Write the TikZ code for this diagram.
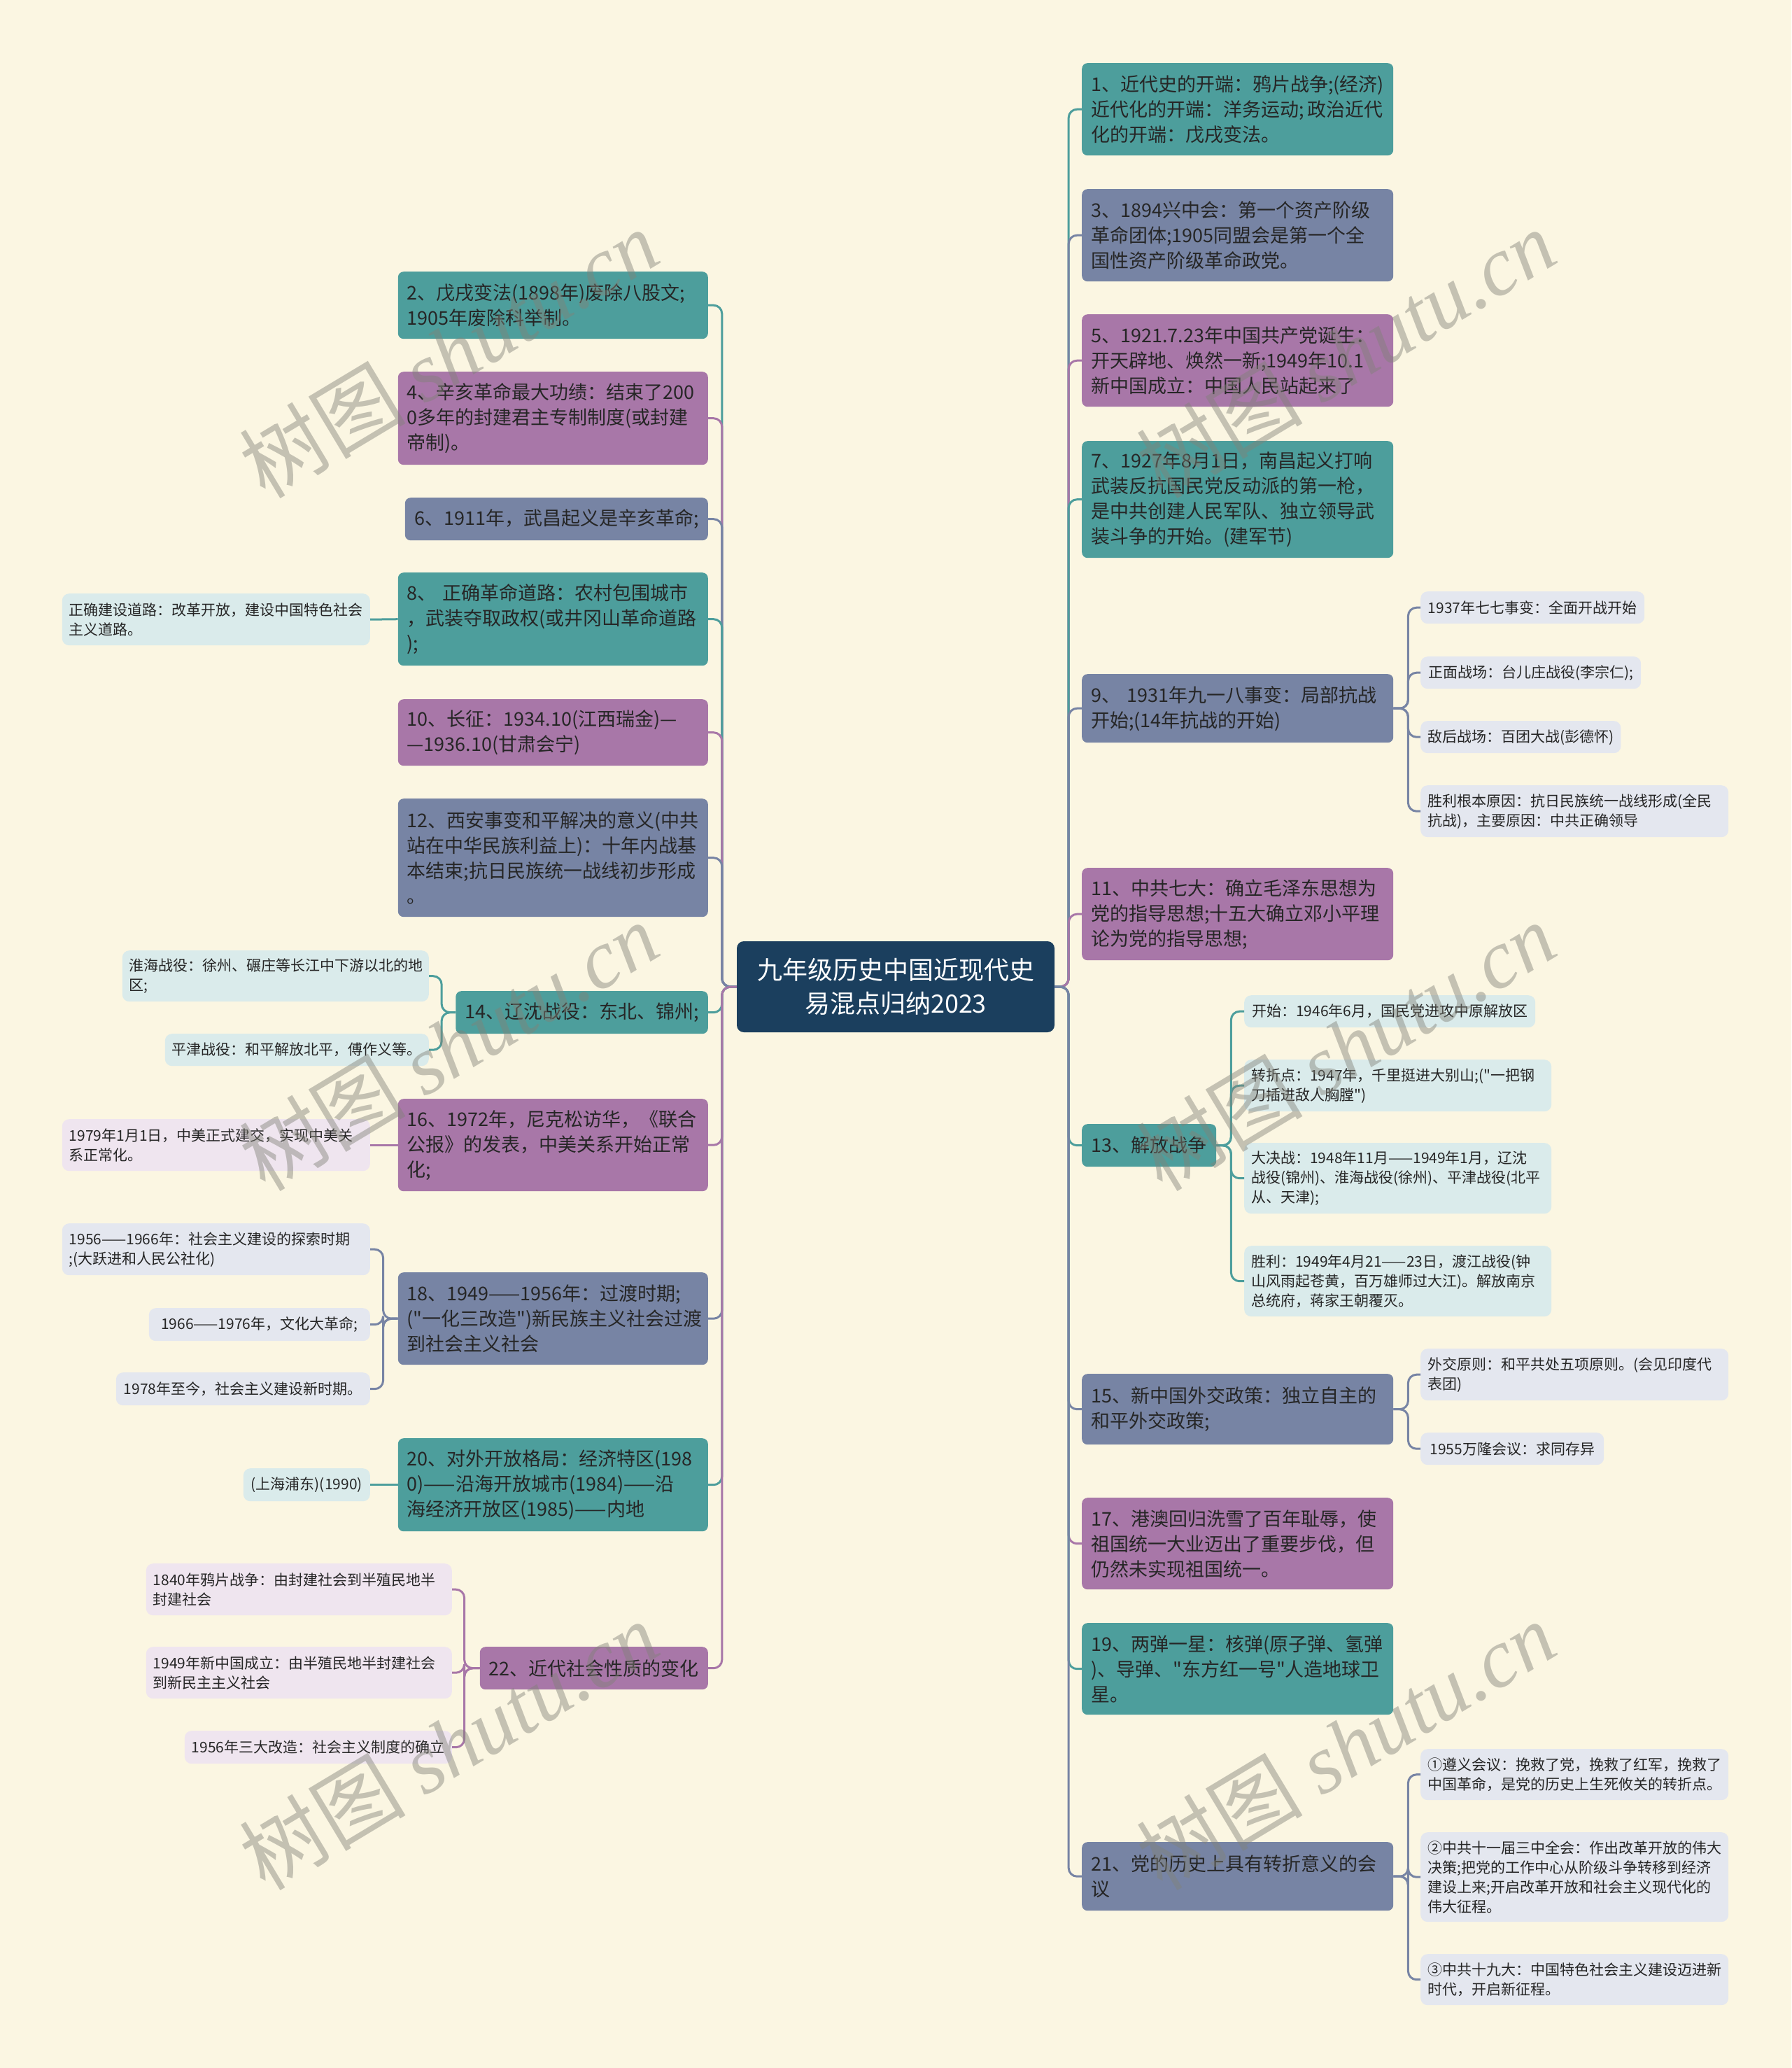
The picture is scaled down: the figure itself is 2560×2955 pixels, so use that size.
\documentclass[tikz,border=0pt]{standalone}
\usepackage{fontspec}
\setmainfont{Noto Sans CJK SC}[Ligatures=TeXOff]
\newfontfamily\wmlat{Liberation Serif}[Ligatures=TeXOff]
\definecolor{bgc}{HTML}{FBF6E2}
\definecolor{cT}{HTML}{4D9E9C}
\definecolor{cS}{HTML}{7784A4}
\definecolor{cP}{HTML}{A877A8}
\definecolor{cC}{HTML}{1B3F5E}
\definecolor{lT}{HTML}{DAEBEB}
\definecolor{lS}{HTML}{E4E7EF}
\definecolor{lP}{HTML}{EFE5EF}
\definecolor{txt}{HTML}{262626}
\definecolor{wmc}{HTML}{828278}
\newcommand\mainfs{\fontsize{27}{36}\selectfont}
\newcommand\subfs{\fontsize{21}{28}\selectfont}
\newcommand\ctrfs{\fontsize{36}{48}\selectfont}
\newcommand\wmfs{\fontsize{119}{130}\selectfont}
\begin{document}
\begin{tikzpicture}[x=1pt,y=-1pt,
  mn/.style={rounded corners=8pt, inner xsep=13pt, inner ysep=4pt, font=\mainfs, text=txt, align=left},
  sn/.style={rounded corners=10pt, inner xsep=10pt, inner ysep=3pt, font=\subfs, text=txt, align=left},
  conn/.style={line width=3pt, rounded corners=12pt},
  wm/.style={rotate=31, text=wmc, opacity=0.45, font=\wmfs, inner sep=0pt}]
\useasboundingbox (0,0) rectangle (2560,2955);
\fill[bgc] (0,0) rectangle (2560,2955);

% centre
\node[rounded corners=10pt, fill=cC, text=white, font=\ctrfs, align=center, minimum width=454pt, minimum height=130pt, inner sep=0pt] (c) at (1280,1410) {九年级历史中国近现代史\\易混点归纳2023};

% right main nodes
\node[mn, fill=cT, anchor=north west, text width=419pt, minimum height=132pt] (n1) at (1546,90) {1、近代史的开端：鸦片战争;(经济)\\近代化的开端：洋务运动;\,政治近代\\化的开端：戊戌变法。};
\node[mn, fill=cS, anchor=north west, text width=419pt, minimum height=132pt] (n3) at (1546,270) {3、1894兴中会：第一个资产阶级\\革命团体;1905同盟会是第一个全\\国性资产阶级革命政党。};
\node[mn, fill=cP, anchor=north west, text width=419pt, minimum height=132pt] (n5) at (1546,449) {5、1921.7.23年中国共产党诞生：\\开天辟地、焕然一新;1949年10.1\\新中国成立：中国人民站起来了};
\node[mn, fill=cT, anchor=north west, text width=419pt, minimum height=167pt] (n7) at (1546,630) {7、1927年8月1日，南昌起义打响\\武装反抗国民党反动派的第一枪，\\是中共创建人民军队、独立领导武\\装斗争的开始。(建军节)};
\node[mn, fill=cS, anchor=north west, text width=419pt, minimum height=98pt] (n9) at (1546,963) {9、 1931年九一八事变：局部抗战\\开始;(14年抗战的开始)};
\node[mn, fill=cP, anchor=north west, text width=419pt, minimum height=132pt] (n11) at (1546,1240) {11、中共七大：确立毛泽东思想为\\党的指导思想;十五大确立邓小平理\\论为党的指导思想;};
\node[mn, fill=cT, anchor=north west, minimum width=192pt, minimum height=61pt] (n13) at (1546,1606) {13、解放战争};
\node[mn, fill=cS, anchor=north west, text width=419pt, minimum height=101pt] (n15) at (1546,1963) {15、新中国外交政策：独立自主的\\和平外交政策;};
\node[mn, fill=cP, anchor=north west, text width=419pt, minimum height=131pt] (n17) at (1546,2140) {17、港澳回归洗雪了百年耻辱，使\\祖国统一大业迈出了重要步伐，但\\仍然未实现祖国统一。};
\node[mn, fill=cT, anchor=north west, text width=419pt, minimum height=131pt] (n19) at (1546,2319) {19、两弹一星：核弹(原子弹、氢弹\\)、导弹、"东方红一号"人造地球卫\\星。};
\node[mn, fill=cS, anchor=north west, text width=419pt, minimum height=98pt] (n21) at (1546,2632) {21、党的历史上具有转折意义的会\\议};

% left main nodes
\node[mn, fill=cT, anchor=north east, text width=417pt, minimum height=96pt] (n2) at (1012,388) {2、戊戌变法(1898年)废除八股文;\\1905年废除科举制。};
\node[mn, fill=cP, anchor=north east, text width=417pt, minimum height=133pt] (n4) at (1012,531) {4、辛亥革命最大功绩：结束了200\\0多年的封建君主专制制度(或封建\\帝制)。};
\node[mn, fill=cS, anchor=north east, minimum width=433pt, minimum height=61pt] (n6) at (1012,711) {6、1911年，武昌起义是辛亥革命;};
\node[mn, fill=cT, anchor=north east, text width=417pt, minimum height=133pt] (n8) at (1012,818) {8、 正确革命道路：农村包围城市\\，武装夺取政权(或井冈山革命道路\\);};
\node[mn, fill=cP, anchor=north east, text width=417pt, minimum height=95pt] (n10) at (1012,999) {10、长征：1934.10(江西瑞金)—\\—1936.10(甘肃会宁)};
\node[mn, fill=cS, anchor=north east, text width=417pt, minimum height=169pt] (n12) at (1012,1141) {12、西安事变和平解决的意义(中共\\站在中华民族利益上)：十年内战基\\本结束;抗日民族统一战线初步形成\\。};
\node[mn, fill=cT, anchor=north east, minimum width=358pt, minimum height=61pt] (n14) at (1012,1416) {14、辽沈战役：东北、锦州;};
\node[mn, fill=cP, anchor=north east, text width=417pt, minimum height=132pt] (n16) at (1012,1570) {16、1972年，尼克松访华，《联合\\公报》的发表，中美关系开始正常\\化;};
\node[mn, fill=cS, anchor=north east, text width=417pt, minimum height=132pt] (n18) at (1012,1818) {18、1949——1956年：过渡时期;\\("一化三改造")新民族主义社会过渡\\到社会主义社会};
\node[mn, fill=cT, anchor=north east, text width=417pt, minimum height=133pt] (n20) at (1012,2055) {20、对外开放格局：经济特区(198\\0)——沿海开放城市(1984)——沿\\海经济开放区(1985)——内地};
\node[mn, fill=cP, anchor=north east, minimum width=325pt, minimum height=61pt] (n22) at (1012,2353) {22、近代社会性质的变化};

% right sub nodes
\node[sn, fill=lS, anchor=north west, minimum width=320pt, minimum height=46pt] (s9a) at (2030,845) {1937年七七事变：全面开战开始};
\node[sn, fill=lS, anchor=north west, minimum width=315pt, minimum height=46pt] (s9b) at (2030,938) {正面战场：台儿庄战役(李宗仁);};
\node[sn, fill=lS, anchor=north west, minimum width=285pt, minimum height=46pt] (s9c) at (2030,1030) {敌后战场：百团大战(彭德怀)};
\node[sn, fill=lS, anchor=north west, text width=420pt, minimum height=74pt] (s9d) at (2030,1122) {胜利根本原因：抗日民族统一战线形成(全民\\抗战)，主要原因：中共正确领导};
\node[sn, fill=lT, anchor=north west, minimum width=416pt, minimum height=46pt] (s13a) at (1778,1422) {开始：1946年6月，国民党进攻中原解放区};
\node[sn, fill=lT, anchor=north west, text width=419pt, minimum height=74pt] (s13b) at (1778,1514) {转折点：1947年，千里挺进大别山;("一把钢\\刀插进敌人胸膛")};
\node[sn, fill=lT, anchor=north west, text width=419pt, minimum height=101pt] (s13c) at (1778,1633) {大决战：1948年11月——1949年1月，辽沈\\战役(锦州)、淮海战役(徐州)、平津战役(北平\\从、天津);};
\node[sn, fill=lT, anchor=north west, text width=419pt, minimum height=101pt] (s13d) at (1778,1780) {胜利：1949年4月21——23日，渡江战役(钟\\山风雨起苍黄，百万雄师过大江)。解放南京\\总统府，蒋家王朝覆灭。};
\node[sn, fill=lS, anchor=north west, text width=420pt, minimum height=74pt] (s15a) at (2030,1927) {外交原则：和平共处五项原则。(会见印度代\\表团)};
\node[sn, fill=lS, anchor=north west, minimum width=262pt, minimum height=46pt] (s15b) at (2030,2047) {1955万隆会议：求同存异};
\node[sn, fill=lS, anchor=north west, text width=420pt, minimum height=73pt] (s21a) at (2030,2499) {①遵义会议：挽救了党，挽救了红军，挽救了\\中国革命，是党的历史上生死攸关的转折点。};
\node[sn, fill=lS, anchor=north west, text width=420pt, minimum height=128pt] (s21b) at (2030,2618) {②中共十一届三中全会：作出改革开放的伟大\\决策;把党的工作中心从阶级斗争转移到经济\\建设上来;开启改革开放和社会主义现代化的\\伟大征程。};
\node[sn, fill=lS, anchor=north west, text width=420pt, minimum height=73pt] (s21c) at (2030,2792) {③中共十九大：中国特色社会主义建设迈进新\\时代，开启新征程。};

% left sub nodes
\node[sn, fill=lT, anchor=north east, text width=420pt, minimum height=74pt] (s8a) at (529,848) {正确建设道路：改革开放，建设中国特色社会\\主义道路。};
\node[sn, fill=lT, anchor=north east, text width=418pt, minimum height=73pt] (s14a) at (613,1358) {淮海战役：徐州、碾庄等长江中下游以北的地\\区;};
\node[sn, fill=lT, anchor=north east, minimum width=375pt, minimum height=46pt] (s14b) at (613,1477) {平津战役：和平解放北平，傅作义等。};
\node[sn, fill=lP, anchor=north east, text width=420pt, minimum height=74pt] (s16a) at (529,1599) {1979年1月1日，中美正式建交，实现中美关\\系正常化。};
\node[sn, fill=lS, anchor=north east, text width=420pt, minimum height=74pt] (s18a) at (529,1748) {1956——1966年：社会主义建设的探索时期\\;(大跃进和人民公社化)};
\node[sn, fill=lS, anchor=north east, minimum width=316pt, minimum height=47pt] (s18b) at (529,1869) {1966——1976年，文化大革命;};
\node[sn, fill=lS, anchor=north east, minimum width=363pt, minimum height=47pt] (s18c) at (529,1961) {1978年至今，社会主义建设新时期。};
\node[sn, fill=lT, anchor=north east, minimum width=181pt, minimum height=47pt] (s20a) at (529,2098) {(上海浦东)(1990)};
\node[sn, fill=lP, anchor=north east, text width=417pt, minimum height=74pt] (s22a) at (646,2234) {1840年鸦片战争：由封建社会到半殖民地半\\封建社会};
\node[sn, fill=lP, anchor=north east, text width=417pt, minimum height=74pt] (s22b) at (646,2353) {1949年新中国成立：由半殖民地半封建社会\\到新民主主义社会};
\node[sn, fill=lP, anchor=north east, minimum width=382pt, minimum height=47pt] (s22c) at (646,2473) {1956年三大改造：社会主义制度的确立};

% connectors centre -> right
\foreach \n/\col in {n1/cT,n3/cS,n5/cP,n7/cT,n9/cS,n11/cP,n13/cT,n15/cS,n17/cP,n19/cT,n21/cS}
  \draw[conn, draw=\col] (c.east) -- ++(20,0) |- (\n.west);
% connectors centre -> left
\foreach \n/\col in {n2/cT,n4/cP,n6/cS,n8/cT,n10/cP,n12/cS,n14/cT,n16/cP,n18/cS,n20/cT,n22/cP}
  \draw[conn, draw=\col] (c.west) -- ++(-21,0) |- (\n.east);

% sub connectors right
\foreach \s in {s9a,s9b,s9c,s9d}
  \draw[conn, draw=cS] (n9.east) -- ++(21,0) |- (\s.west);
\foreach \s in {s13a,s13b,s13c,s13d}
  \draw[conn, draw=cT] (n13.east) -- ++(21,0) |- (\s.west);
\foreach \s in {s15a,s15b}
  \draw[conn, draw=cS] (n15.east) -- ++(21,0) |- (\s.west);
\foreach \s in {s21a,s21b,s21c}
  \draw[conn, draw=cS] (n21.east) -- ++(21,0) |- (\s.west);

% sub connectors left
\draw[conn, draw=cT] (n8.west) -- (s8a.east);
\foreach \s in {s14a,s14b}
  \draw[conn, draw=cT] (n14.west) -- ++(-20,0) |- (\s.east);
\draw[conn, draw=cP] (n16.west) -- (s16a.east);
\foreach \s in {s18a,s18b,s18c}
  \draw[conn, draw=cS] (n18.west) -- ++(-21,0) |- (\s.east);
\draw[conn, draw=cT] (n20.west) -- (s20a.east);
\foreach \s in {s22a,s22b,s22c}
  \draw[conn, draw=cP] (n22.west) -- ++(-22,0) |- (\s.east);

% watermarks
\foreach \p/\q in {641/505,1923/505,641/1495,1923/1495,641/2494,1923/2494}
  \node[wm] at (\p,\q) {树图 {\wmlat\itshape shutu.cn}};
\end{tikzpicture}
\end{document}
